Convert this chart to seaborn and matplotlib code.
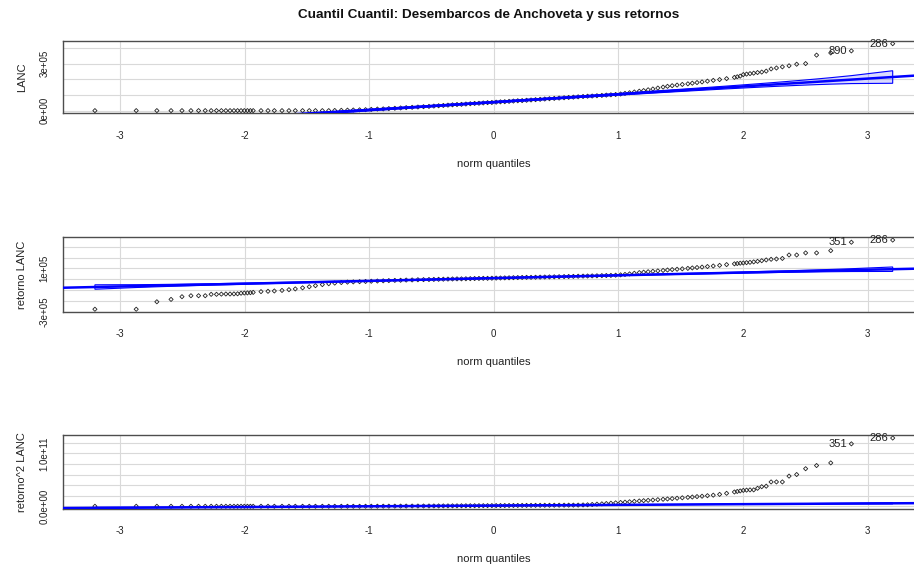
import numpy as np
import pandas as pd
import matplotlib
matplotlib.use("Agg")
import matplotlib.pyplot as plt
import seaborn as sns
from statistics import NormalDist

# ---- data -------------------------------------------------------------
n_obs = 728  # sample size of each series

# order-statistic ranks that are drawn
ranks = (list(range(1, 21))
         + [23, 26, 29, 33, 37, 41, 46, 51, 56, 62, 68, 74, 81, 88, 95, 103,
            111, 119, 128, 137, 146, 156, 166, 176, 187, 198, 209, 220, 230]
         + list(range(240, 500, 10))
         + [500, 510, 520, 529, 538, 547, 556, 564, 572, 580, 588, 595, 602,
            609, 616, 622, 628, 634, 640, 645, 650, 655, 660, 665, 669, 673,
            677, 681, 685, 688, 691, 694, 697, 700, 703, 706]
         + list(range(709, 729)))

# LANC (x 1e5)
lanc = ([0.0] * 20
        + [0.0] * 11
        + [0.01, 0.02, 0.03, 0.04, 0.05, 0.06, 0.08, 0.10, 0.11, 0.13, 0.15,
           0.17, 0.19, 0.21, 0.23, 0.25, 0.27, 0.29]
        + [0.31, 0.33, 0.35, 0.37, 0.39, 0.40, 0.42, 0.44, 0.46, 0.47, 0.49,
           0.51, 0.52, 0.54, 0.56, 0.57, 0.59, 0.61, 0.63, 0.64, 0.66, 0.68,
           0.70, 0.72, 0.74, 0.76]
        + [0.78, 0.80, 0.82, 0.84, 0.86, 0.88, 0.90, 0.92, 0.93, 0.95, 0.97,
           0.99, 1.01, 1.03, 1.06, 1.10, 1.14, 1.19, 1.24, 1.28, 1.33, 1.38,
           1.44, 1.50, 1.55, 1.59, 1.63, 1.67, 1.71, 1.75, 1.79, 1.83, 1.88,
           1.93, 1.98, 2.04]
        + [2.12, 2.16, 2.20, 2.30, 2.33, 2.36, 2.39, 2.43, 2.46, 2.52, 2.66,
           2.72, 2.79, 2.86, 2.96, 3.00, 3.54, 3.68, 3.81, 4.27])

# retorno LANC (x 1e5)
ret = ([-2.78, -2.78, -2.09, -1.87, -1.62, -1.53, -1.53, -1.53, -1.40, -1.40,
        -1.38, -1.37, -1.37, -1.36, -1.35, -1.30, -1.28, -1.27, -1.25, -1.22]
       + [-1.15, -1.12, -1.09, -1.04, -0.97, -0.90, -0.80, -0.70, -0.60, -0.50,
          -0.42, -0.36, -0.31, -0.27, -0.25, -0.23, -0.21, -0.19, -0.17, -0.15,
          -0.13, -0.11, -0.10, -0.08, -0.07, -0.05, -0.04, -0.03, -0.02]
       + [-0.01, 0.00, 0.01, 0.02, 0.03, 0.03, 0.04, 0.05, 0.06, 0.07, 0.08,
          0.08, 0.09, 0.10, 0.11, 0.12, 0.13, 0.14, 0.15, 0.16, 0.17, 0.17,
          0.18, 0.19, 0.20, 0.21]
       + [0.22, 0.23, 0.24, 0.25, 0.26, 0.275, 0.285, 0.295, 0.305, 0.315,
          0.33, 0.34, 0.35, 0.37, 0.40, 0.44, 0.49, 0.55, 0.61, 0.65, 0.69,
          0.73, 0.77, 0.81, 0.85, 0.89, 0.92, 0.96, 1.00, 1.04, 1.08, 1.12,
          1.17, 1.22, 1.28, 1.35]
       + [1.42, 1.45, 1.48, 1.50, 1.53, 1.56, 1.60, 1.65, 1.71, 1.78, 1.84,
          1.87, 1.92, 2.24, 2.24, 2.43, 2.43, 2.64, 3.42, 3.62])

# retorno^2 LANC (x 1e11)
ret2 = ([0.0] * 20
        + [0.0] * 16
        + [0.0005, 0.001, 0.0013, 0.0017, 0.002, 0.0025, 0.003, 0.0035, 0.004,
           0.0045, 0.005, 0.0055, 0.006]
        + [0.0065, 0.007, 0.0075, 0.008, 0.0085, 0.009, 0.0095, 0.010, 0.0105,
           0.011, 0.0115, 0.012, 0.0125, 0.013, 0.0135, 0.014, 0.0145, 0.015,
           0.0155, 0.016, 0.0165, 0.017, 0.0175, 0.018, 0.0185, 0.019]
        + [0.0195, 0.020, 0.0205, 0.021, 0.0215, 0.022, 0.025, 0.028, 0.034,
           0.040, 0.046, 0.052, 0.058, 0.065, 0.072, 0.078, 0.085, 0.093,
           0.100, 0.106, 0.112, 0.118, 0.125, 0.132, 0.138, 0.145, 0.152,
           0.160, 0.168, 0.175, 0.183, 0.190, 0.200, 0.210, 0.225, 0.245]
        + [0.27, 0.28, 0.29, 0.30, 0.305, 0.31, 0.31, 0.34, 0.37, 0.38, 0.46,
           0.46, 0.46, 0.57, 0.60, 0.71, 0.77, 0.82, 1.18, 1.29])

panels = [
    dict(values=np.array(lanc) * 1e5, ylabel="LANC",
         ids=["890", "286"],
         yticks=[0, 1e5, 2e5, 3e5, 4e5], ylabels={0: "0e+00", 3e5: "3e+05"}),
    dict(values=np.array(ret) * 1e5, ylabel="retorno LANC",
         ids=["351", "286"],
         yticks=[-3e5, -2e5, -1e5, 0, 1e5, 2e5, 3e5],
         ylabels={-3e5: "-3e+05", 1e5: "1e+05"}),
    dict(values=np.array(ret2) * 1e11, ylabel="retorno^2 LANC",
         ids=["351", "286"],
         yticks=[0, 0.2e11, 0.4e11, 0.6e11, 0.8e11, 1.0e11, 1.2e11],
         ylabels={0: "0.0e+00", 1.0e11: "1.0e+11"}),
]

title = "Cuantil Cuantil: Desembarcos de Anchoveta y sus retornos"
xticks = [-3, -2, -1, 0, 1, 2, 3]

# ---- style ------------------------------------------------------------
sns.set_style("white")
plt.rcParams["font.family"] = ["Liberation Sans", "DejaVu Sans"]

BLUE = "#0000FF"
GRID = "#D9D9D9"
FRAME = "#4D4D4D"

W, H = 914, 567
fig = plt.figure(figsize=(W / 100, H / 100), dpi=100)

nd = NormalDist()
pp_all = (np.arange(1, n_obs + 1) - 0.5) / n_obs
z_all = np.array([nd.inv_cdf(p) for p in pp_all])
dens_all = np.array([nd.pdf(z) for z in z_all])

x_lo = z_all[0] - 0.04 * (z_all[-1] - z_all[0])
x_hi = z_all[-1] + 0.04 * (z_all[-1] - z_all[0])

# axes boxes in pixels: (top, bottom)
boxes = [(41, 113.3), (237.3, 312), (435.3, 509)]
left_px = 63
right_px = 924.6

rk = np.array(ranks)
for spec, (top, bot) in zip(panels, boxes):
    ax = fig.add_axes([left_px / W, 1 - bot / H, (right_px - left_px) / W,
                       (bot - top) / H])
    vals = spec["values"]
    zq = z_all[rk - 1]
    df = pd.DataFrame({"q": zq, "v": vals})

    # reference line through the quartiles and pointwise 95% envelope
    q1 = np.interp(1 + (n_obs - 1) * 0.25, rk, vals)
    q3 = np.interp(1 + (n_obs - 1) * 0.75, rk, vals)
    z1, z3 = nd.inv_cdf(0.25), nd.inv_cdf(0.75)
    b = (q3 - q1) / (z3 - z1)
    a = q1 - b * z1
    fit = a + b * z_all
    se = (b / dens_all) * np.sqrt(pp_all * (1 - pp_all) / n_obs)
    zz = nd.inv_cdf(0.975)
    upper = fit + zz * se
    lower = fit - zz * se

    for xt in xticks:
        ax.axvline(xt, color=GRID, lw=0.8, zorder=0)
    for yt in spec["yticks"]:
        ax.axhline(yt, color=GRID, lw=0.8, zorder=0)

    sns.scatterplot(data=df, x="q", y="v", ax=ax, marker="D", s=4.5,
                    facecolor="none", edgecolor="#222222", linewidth=0.6,
                    zorder=2, legend=False)

    ax.fill(np.r_[z_all, z_all[::-1]], np.r_[upper, lower[::-1]],
            facecolor=(0, 0, 1, 0.15), edgecolor=BLUE, lw=0.8, zorder=3)
    line_x = np.array([x_lo, x_hi])
    sns.lineplot(x=line_x, y=a + b * line_x, ax=ax, color=BLUE, lw=1.8,
                 zorder=4)

    # identify the two largest observations
    for rnk, lab in zip([n_obs - 1, n_obs], spec["ids"]):
        i = ranks.index(rnk)
        ax.annotate(lab, (zq[i], vals[i]), xytext=(-3, 0),
                    textcoords="offset points", ha="right", va="center",
                    fontsize=8, color="#222222", zorder=5)

    rng = vals.max() - vals.min()
    ax.set_xlim(x_lo, x_hi)
    ax.set_ylim(vals.min() - 0.04 * rng, vals.max() + 0.04 * rng)

    ax.set_xticks(xticks)
    ax.set_xticklabels([str(t) for t in xticks])
    ax.set_yticks(spec["yticks"])
    ax.set_yticklabels([spec["ylabels"].get(t, "") for t in spec["yticks"]],
                       rotation=90, va="center")
    ax.tick_params(axis="both", direction="out", length=5.5, width=0.9,
                   color=FRAME, labelsize=7, labelcolor="#222222")
    ax.tick_params(axis="x", pad=7)
    ax.tick_params(axis="y", pad=4)
    ax.set_xlabel("norm quantiles", fontsize=8, labelpad=13,
                  color="#222222")
    ax.set_ylabel(spec["ylabel"], fontsize=8, labelpad=9, color="#222222")
    for side in ["left", "bottom", "top", "right"]:
        ax.spines[side].set_color(FRAME)
        ax.spines[side].set_linewidth(1.0)

fig.text(489 / W, 1 - 15 / H, title, ha="center", va="center",
         fontsize=9.7, fontweight="bold", color="#111111")

fig.savefig("out.png", dpi=100)
